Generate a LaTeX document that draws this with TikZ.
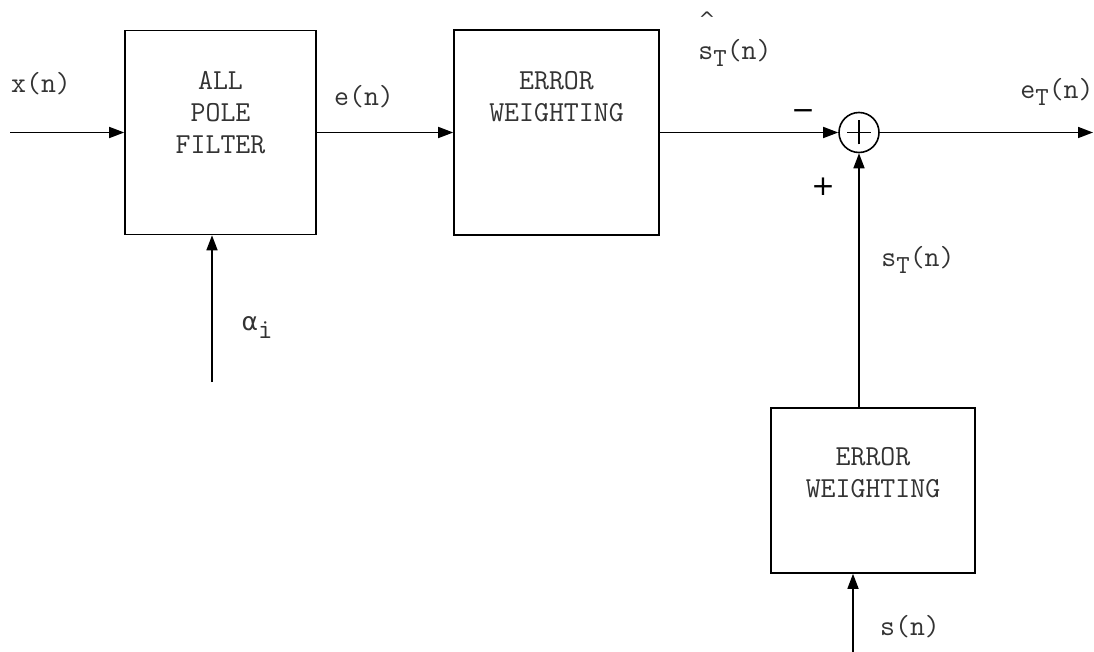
\documentclass[tikz,border=0pt]{standalone}
\usepackage{fontspec}
\newfontfamily\symfont{DejaVu Sans}
\usetikzlibrary{arrows.meta}
\newcommand{\subT}{\raisebox{-7pt}{\fontsize{26}{26}\selectfont T}}
\tikzset{
  blk/.style={draw, line width=1.6pt, rectangle, inner sep=0pt},
  txt/.style={font=\ttfamily\fontsize{29}{32}\selectfont, text=black!80, inner sep=0pt, align=center},
  sig/.style={line width=1.6pt, -{Triangle[length=15pt,width=11pt]}},
  wire/.style={line width=1.6pt},
  sgn/.style={font=\symfont\fontsize{28}{28}\selectfont, inner sep=0pt}
}
\begin{document}
\begin{tikzpicture}[x=1pt,y=-1pt]
\useasboundingbox (0,0) rectangle (1094,652);
% boxes
\node[blk, minimum width=191pt, minimum height=204pt] (apf) at (220.5,132.5) {};
\node[blk, minimum width=205pt, minimum height=205pt] (ew1) at (556.5,132.5) {};
\node[blk, minimum width=204pt, minimum height=165pt] (ew2) at (873,490.5) {};
\node[txt, anchor=north] (apft) at (220.5,71) {ALL\\POLE\\FILTER};
\node[txt, anchor=north] (ew1t) at (556.5,71) {ERROR\\WEIGHTING};
\node[txt, anchor=north] (ew2t) at (873,447) {ERROR\\WEIGHTING};
% summing junction
\node[draw, circle, line width=1.6pt, minimum size=40pt, inner sep=0pt] (sum) at (859,132.5) {};
\draw[wire] ([yshift=-12pt]sum.center) -- ([yshift=12pt]sum.center);
\draw[wire] ([xshift=-12pt]sum.center) -- ([xshift=12pt]sum.center);
% coordinates
\coordinate (xin) at (10,132.5);
\coordinate (ain) at (212,382);
\coordinate (sin) at (853,652);
\coordinate (eout) at (1093,132.5);
% connectors
\draw[sig] (xin) -- (apf.west);
\draw[sig] (ain) -- (ain |- apf.south);
\draw[sig] (apf.east) -- (ew1.west);
\draw[sig] (ew1.east) -- (sum.west);
\draw[sig] (sum.east) -- (eout);
\draw[sig] (sum.center |- ew2.north) -- (sum.south);
\draw[sig] (sin) -- (sin |- ew2.south);
% labels
\node[txt] (lx) at (41,84) {x(n)};
\node[txt] (la) at (257,328) {\symfont\fontsize{25}{25}\selectfont α\raisebox{-8pt}{\ttfamily\fontsize{28}{28}\selectfont i}};
\node[txt] (le) at (364,97) {e(n)};
\node[txt] (lhat) at (707,19) {\symfont\fontsize{20}{20}\selectfont\char"5E};
\node[txt] (lsh) at (735,53) {s\subT(n)};
\node[txt] (let) at (1057,92) {e\subT(n)};
\node[txt] (lst) at (918,260) {s\subT(n)};
\node[txt] (ls) at (910,627) {s(n)};
\node[sgn] (minus) at (803,115) {−};
\node[sgn] (plus) at (823,187) {+};
\end{tikzpicture}
\end{document}
